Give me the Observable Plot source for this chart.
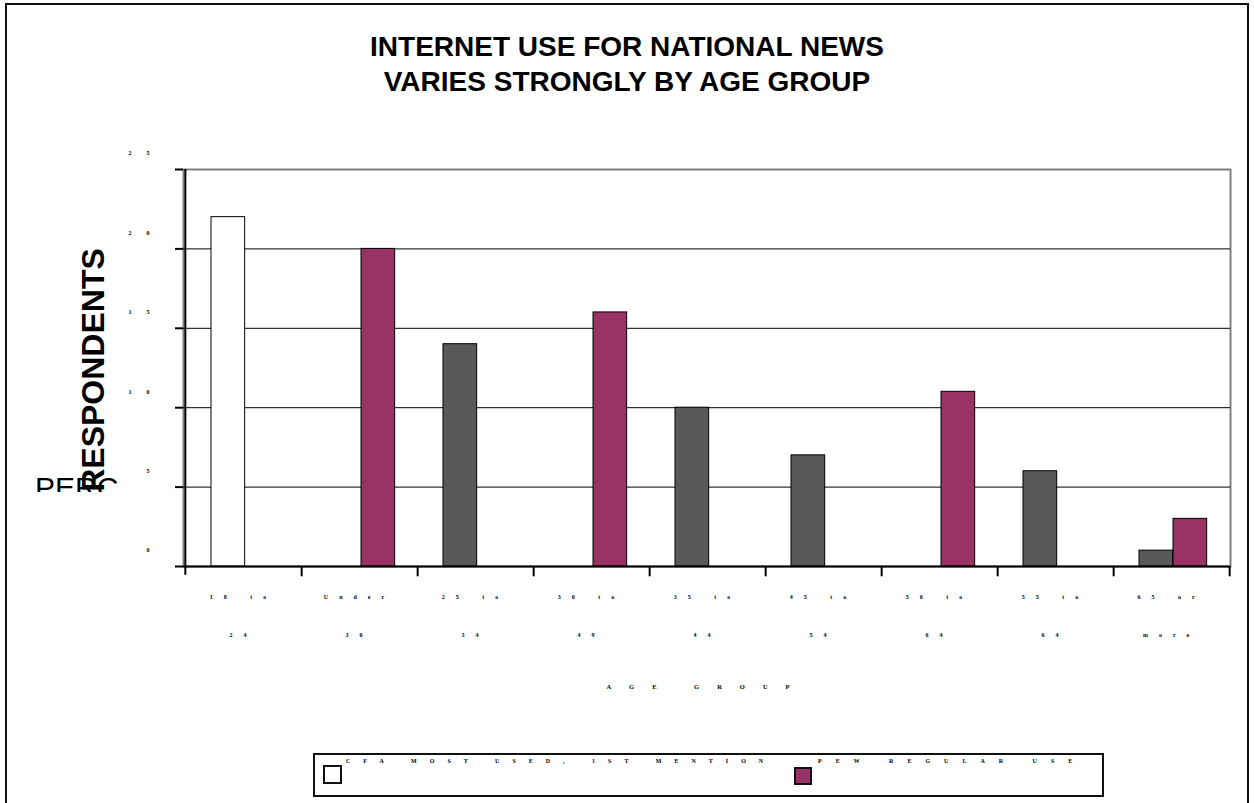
<!DOCTYPE html>
<html>
<head>
<meta charset="utf-8">
<script src="https://cdn.jsdelivr.net/npm/d3@7"></script>
<script src="https://cdn.jsdelivr.net/npm/@observablehq/plot@0.6"></script>
<style>
  html, body { margin: 0; padding: 0; background: #fff; }
  #page { position: relative; width: 1254px; height: 803px; overflow: hidden; background: #fff; }
  #outer { position: absolute; left: 5px; top: 3px; width: 1244px; height: 820px; border: 2px solid #111; box-sizing: border-box; }
  #title { position: absolute; left: 0; top: 29px; width: 1254px; text-align: center; font: bold 28px "Liberation Sans", Arial, sans-serif; line-height: 35px; color: #000; }
  #perc { position: absolute; left: 35px; top: 473px; height: 19px; overflow: hidden; font: 30px "Liberation Sans", Arial, sans-serif; line-height: 30px; color: #000; white-space: nowrap; }
  #chart { position: absolute; left: 0; top: 0; }
  #legend { position: absolute; left: 313px; top: 753px; width: 791px; height: 44px; border: 2px solid #111; box-sizing: border-box; background: #fff; }
  .sw { position: absolute; box-sizing: border-box; border: 2px solid #111; }
  .lt { position: absolute; font: bold 6px "Liberation Serif", "Times New Roman", serif; white-space: nowrap; color: #000; }
</style>
</head>
<body>
<div id="page">
  <div id="outer"></div>
  <div id="title">INTERNET USE FOR NATIONAL NEWS<br>VARIES STRONGLY BY AGE GROUP</div>
  <div id="perc">PERC</div>
  <div id="chart"></div>
  <div id="legend"></div>
</div>
<script>
// ---- data ----
const categories = ["18 to 24", "Under 30", "25 to 34", "30 to 49", "35 to 44", "45 to 54", "50 to 64", "55 to 64", "65 or more"];
const tickLabels = ["18 to\n24", "Under\n30", "25 to\n34", "30 to\n49", "35 to\n44", "45 to\n54", "50 to\n64", "55 to\n64", "65 or\nmore"];
const cfaValues = [22, null, 14, null, 10, 7, null, 6, 1];
const pewValues = [null, 20, null, 16, null, null, 11, null, 3];
const seriesNames = ["CFA MOST USED, 1ST MENTION", "PEW REGULAR USE"];
const yTicks = [0, 5, 10, 15, 20, 25];
const gridTicks = [5, 10, 15, 20];
const xTitle = "AGE GROUP";
const yTitle = "RESPONDENTS";

// ---- styling ----
const MAGENTA = "#993366";
const DARK = "#595959";
const serif = "'Liberation Serif', 'Times New Roman', serif";

const cfa = categories.map((c, i) => ({cat: c, value: cfaValues[i], idx: i})).filter(d => d.value != null);
const pew = categories.map((c, i) => ({cat: c, value: pewValues[i]})).filter(d => d.value != null);
const labels = categories.map((c, i) => ({cat: c, label: tickLabels[i]}));

const W = 1254, ML = 183, MR = 24, MT = 169, MB = 154, H = 566 + MB;
const bandW = (W - ML - MR) / categories.length;

const plot = Plot.plot({
  width: W,
  height: H,
  marginLeft: ML,
  marginRight: MR,
  marginTop: MT,
  marginBottom: MB,
  style: {background: "transparent", overflow: "visible"},
  x: {domain: categories, padding: 0, axis: null},
  y: {domain: [0, 25], axis: null},
  marks: [
    Plot.frame({stroke: "#808080", strokeWidth: 2}),
    Plot.ruleY(gridTicks, {stroke: "#000", strokeWidth: 1}),
    Plot.barY(cfa, {x: "cat", y: "value", fill: d => d.idx === 0 ? "#fff" : DARK, stroke: "#000", strokeWidth: 1, insetLeft: 26, insetRight: bandW - 60}),
    Plot.barY(pew, {x: "cat", y: "value", fill: MAGENTA, stroke: "#000", strokeWidth: 1, insetLeft: 60, insetRight: bandW - 94}),
    Plot.ruleY([0], {stroke: "#000", strokeWidth: 2}),
    Plot.ruleX(categories, {x: d => d, dx: bandW / 2, y1: 0, y2: -0.65, stroke: "#000", strokeWidth: 2}),
    Plot.ruleX([categories[0]], {x: d => d, dx: -bandW / 2, y1: -0.55, y2: 25, stroke: "#000", strokeWidth: 2}),
    Plot.axisY({ticks: yTicks, tickSize: 8, tickFormat: () => "", label: null, stroke: "#000", strokeWidth: 2}),
    Plot.text(yTicks, {y: d => d, text: d => String(d), frameAnchor: "left", textAnchor: "end", dx: -19, dy: -16, fontSize: 6, fontWeight: "bold", fontFamily: serif, fill: "#000", ariaDescription: "ylab"}),
    Plot.text(labels, {x: "cat", text: "label", frameAnchor: "bottom", lineAnchor: "top", dy: 6, lineHeight: 6.33, fontSize: 6, fontWeight: "bold", fontFamily: serif, fill: "#000", ariaDescription: "xlab"}),
    Plot.text([xTitle], {text: d => d, frameAnchor: "bottom", textAnchor: "middle", dy: 122, fontSize: 6.5, fontWeight: "bold", fontFamily: serif, fill: "#000", ariaDescription: "xtitle"}),
    Plot.text([yTitle], {text: d => d, frameAnchor: "left", textAnchor: "middle", rotate: -90, dx: -90, dy: 2, fontSize: 32, fontWeight: "bold", fontFamily: "'Liberation Sans', Arial, sans-serif", fill: "#000"})
  ]
});

const svg = d3.select(plot);
svg.selectAll('g[aria-description="ylab"] text').style("letter-spacing", "15px");
svg.selectAll('g[aria-description="xlab"] text').style("letter-spacing", "11px");
svg.selectAll('g[aria-description="xtitle"] text').style("letter-spacing", "18px");
document.getElementById("chart").appendChild(plot);

// ---- legend ----
const legend = document.getElementById("legend");
const items = [
  {name: seriesNames[0], fill: "#fff", sx: 8, sy: 10, size: 19, tx: 31, ls: 13},
  {name: seriesNames[1], fill: MAGENTA, sx: 479, sy: 12, size: 18, tx: 503, ls: 14}
];
for (const it of items) {
  const sw = document.createElement("div");
  sw.className = "sw";
  sw.style.left = it.sx + "px"; sw.style.top = it.sy + "px";
  sw.style.width = it.size + "px"; sw.style.height = it.size + "px";
  sw.style.background = it.fill;
  legend.appendChild(sw);
  const t = document.createElement("div");
  t.className = "lt";
  t.style.left = it.tx + "px"; t.style.top = "3px";
  t.style.letterSpacing = it.ls + "px";
  t.textContent = it.name;
  legend.appendChild(t);
}
</script>
</body>
</html>
